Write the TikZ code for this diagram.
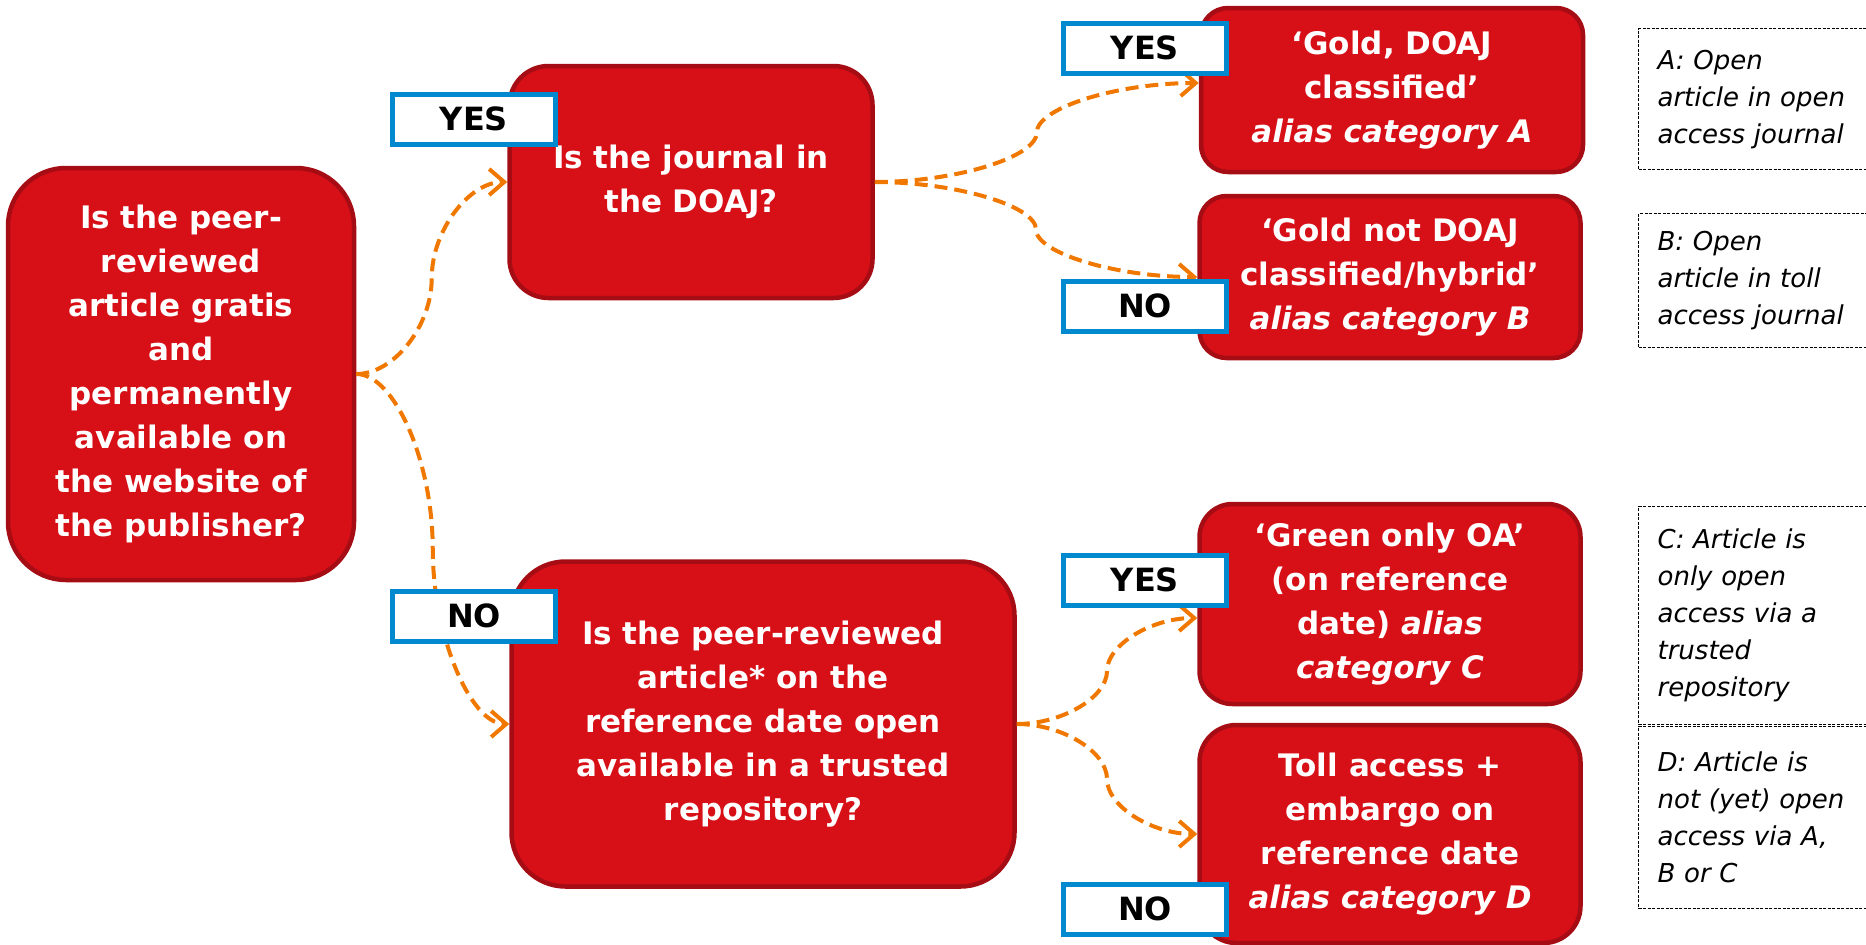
\documentclass[tikz,border=0pt]{standalone}
\usepackage{fontspec}
\setmainfont{DejaVu Sans}
\usetikzlibrary{arrows.meta,calc}

\definecolor{boxred}{RGB}{215,15,23}
\definecolor{boxedge}{RGB}{165,12,20}
\definecolor{tagblue}{RGB}{0,137,207}
\definecolor{floworange}{RGB}{240,120,0}

\tikzset{
  question/.style={draw=boxedge,fill=boxred,line width=4.5pt,text=white,
    font=\bfseries\fontsize{31}{44}\selectfont,align=center,inner sep=0pt},
  tag/.style={draw=tagblue,fill=white,line width=5pt,inner sep=0pt,
    font=\bfseries\fontsize{32}{44}\selectfont,minimum width=163,minimum height=50},
  note/.style={draw,line width=1.2pt,dash pattern=on 3pt off 1.5pt,anchor=north west,
    font=\itshape\fontsize{26}{37}\selectfont,text width=210,align=left,
    inner xsep=19pt,inner ysep=0pt},
  flow/.style={draw=floworange,line width=4pt,dash pattern=on 13pt off 7pt,
    -{Straight Barb[length=15pt,width=26pt]}},
  % s-shaped connector, horizontal at both ends
  scurve/.style={to path={let \p1=(\tikztostart),\p2=(\tikztotarget),\p3=($(\p1)!.5!(\p2)$) in
    .. controls ($(\p1)!.25!(\x2,\y1)$) and ($(\p3)!.5!(\x3,\y1)$) .. (\p3)
    .. controls ($(\p3)!.5!(\x3,\y2)$) and ($(\p2)!.25!(\x1,\y2)$) .. (\p2)}}
}

\begin{document}
\begin{tikzpicture}[x=1pt,y=-1pt]
\useasboundingbox (0,0) rectangle (1866,945);
% questions
\node[question,minimum width=346,minimum height=412,rounded corners=58] (start) at (181,374)
  {Is the peer-\\reviewed\\article gratis\\and\\permanently\\available on\\the website of\\the publisher?};
\node[question,minimum width=363,minimum height=232,rounded corners=39] (doaj) at (691,182)
  {Is the journal in\\the DOAJ?};
\node[question,minimum width=503,minimum height=325,rounded corners=54] (repo) at (763,724)
  {Is the peer-reviewed\\article* on the\\reference date open\\available in a trusted\\repository?};
% categories
\node[question,minimum width=382,minimum height=164,rounded corners=27] (catA) at (1392,90)
  {‘Gold, DOAJ\\classified’\\\textit{alias category A}};
\node[question,minimum width=381,minimum height=162,rounded corners=27] (catB) at (1390,277)
  {‘Gold not DOAJ\\classified/hybrid’\\\textit{alias category B}};
\node[question,minimum width=381,minimum height=200,rounded corners=33] (catC) at (1390,604)
  {‘Green only OA’\\(on reference\\date) \textit{alias}\\\textit{category C}};
\node[question,minimum width=381,minimum height=218,rounded corners=37] (catD) at (1390,834)
  {Toll access +\\embargo on\\reference date\\\textit{alias category D}};
% connectors
\draw[flow] (start.east) to[scurve] (doaj.west);
\draw[flow] (start.east) to[scurve] (repo.west);
\draw[flow] (doaj.east) to[scurve] ([yshift=7pt]catA.west);
\draw[flow] (doaj.east) to[scurve] (catB.west);
\draw[flow] (repo.east) to[scurve] ([yshift=-14pt]catC.west);
\draw[flow] (repo.east) to[scurve] (catD.west);
% answers
\node[tag] (tagYes) at (474,119) {YES};
\node[tag] (tagNo) at (474,616) {NO};
\node[tag] (tagA) at (1145,48) {YES};
\node[tag] (tagB) at (1145,306) {NO};
\node[tag] (tagC) at (1145,580) {YES};
\node[tag] (tagD) at (1145,909) {NO};
% notes
\node[note,minimum height=141] (noteA) at (1638,28) {A: Open\\article in open\\access journal};
\node[note,minimum height=134] (noteB) at (1638,213) {B: Open\\article in toll\\access journal};
\node[note,minimum height=218] (noteC) at (1638,506) {C: Article is\\only open\\access via a\\trusted\\repository};
\node[note,minimum height=182] (noteD) at (1638,726) {D: Article is\\not (yet) open\\access via A,\\B or C};
\end{tikzpicture}
\end{document}
